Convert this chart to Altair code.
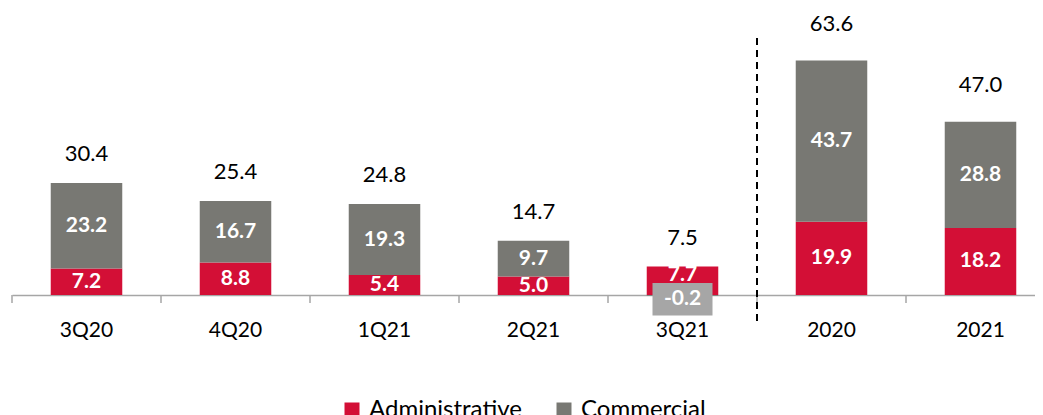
import altair as alt
import pandas as pd

categories = ["3Q20", "4Q20", "1Q21", "2Q21", "3Q21", "2020", "2021"]
period = ["quarter", "quarter", "quarter", "quarter", "quarter", "year", "year"]
administrative = [7.2, 8.8, 5.4, 5.0, 7.7, 19.9, 18.2]
commercial = [23.2, 16.7, 19.3, 9.7, -0.2, 43.7, 28.8]
totals = [30.4, 25.4, 24.8, 14.7, 7.5, 63.6, 47.0]
series = ["Administrative", "Commercial"]
colors = ["#D30F36", "#787873"]
divider_before = "2020"

FONT = "Lato"
RANGE_W = 1043
HEIGHT = 258

seg_rows, neg_rows, top_rows = [], [], []
for c, p, a, m, t in zip(categories, period, administrative, commercial, totals):
    # when the commercial value is negative, its grey label box sits over the
    # lower part of the red bar, so the red label is nudged up a little
    seg_rows.append({"cat": c, "series": "Administrative", "y0": 0.0, "y1": a,
                     "mid": a / 2 + (1.45 if m < 0 else 0.0), "label": f"{a:.1f}"})
    if m >= 0:
        seg_rows.append({"cat": c, "series": "Commercial", "y0": a, "y1": a + m,
                         "mid": a + m / 2, "label": f"{m:.1f}"})
    else:
        seg_rows.append({"cat": c, "series": "Commercial", "y0": 0.0, "y1": m,
                         "mid": m / 2, "label": ""})
        neg_rows.append({"cat": c, "val": m, "label": f"{m:.1f}"})
    top_rows.append({"cat": c, "period": p, "top": t, "label": f"{t:.1f}"})

seg = pd.DataFrame(seg_rows)
neg = pd.DataFrame(neg_rows)
tops = pd.DataFrame(top_rows)
div = pd.DataFrame({"cat": [divider_before]})
ticks_df = pd.DataFrame({"cat": categories})

PAD_IN = 0.52
STEP = RANGE_W / len(categories)
xscale = alt.Scale(domain=categories, range=[0, RANGE_W], paddingInner=PAD_IN,
                   paddingOuter=PAD_IN / 2)
yscale = alt.Scale(domain=[0, 70], nice=False, zero=False)

X = alt.X("cat:N", sort=categories, scale=xscale,
          axis=alt.Axis(title=None, labelAngle=0, ticks=False, grid=False,
                        bandPosition=0.5))
Xs = alt.X("cat:N", sort=categories, scale=xscale)

bars = alt.Chart(seg).mark_bar(stroke=None).encode(
    x=X,
    y=alt.Y("y0:Q", scale=yscale, axis=None),
    y2="y1:Q",
    color=alt.Color("series:N", scale=alt.Scale(domain=series, range=colors),
                    legend=alt.Legend(orient="none", legendX=328, legendY=361,
                                      direction="horizontal", title=None,
                                      symbolType="square", symbolSize=225,
                                      symbolStrokeWidth=0, labelFont=FONT,
                                      labelFontSize=24, labelColor="black",
                                      columnPadding=30, labelOffset=5)),
)

# category-boundary tick marks hanging below the baseline
axis_ticks = alt.Chart(ticks_df).mark_rule(color="#A6A6A6", strokeWidth=1.5,
                                           xOffset=-(PAD_IN / 2) * STEP).encode(
    x=alt.X("cat:N", sort=categories, scale=xscale, bandPosition=0),
    y=alt.value(HEIGHT),
    y2=alt.value(HEIGHT + 8),
)

seg_text = alt.Chart(seg).mark_text(font=FONT, fontSize=21, fontWeight="bold",
                                    color="white", baseline="middle").encode(
    x=Xs, y=alt.Y("mid:Q", scale=yscale), text="label:N",
)

neg_box = alt.Chart(neg).mark_point(
    shape="M-1,-0.54L1,-0.54L1,0.54L-1,0.54Z", size=3600, filled=True,
    fill="#A6A6A6", opacity=1, strokeWidth=0, yOffset=3.5).encode(
    x=Xs, y=alt.Y("val:Q", scale=yscale),
)

neg_text = alt.Chart(neg).mark_text(font=FONT, fontSize=21, fontWeight="bold",
                                    color="white", baseline="middle", yOffset=3.5).encode(
    x=Xs, y=alt.Y("val:Q", scale=yscale), text="label:N",
)

top_q = alt.Chart(tops).transform_filter(alt.datum.period == "quarter").mark_text(
    font=FONT, fontSize=22, color="black", baseline="middle", dy=-29).encode(
    x=Xs, y=alt.Y("top:Q", scale=yscale), text="label:N",
)
top_y = alt.Chart(tops).transform_filter(alt.datum.period == "year").mark_text(
    font=FONT, fontSize=22, color="black", baseline="middle", dy=-37).encode(
    x=Xs, y=alt.Y("top:Q", scale=yscale), text="label:N",
)

divider = alt.Chart(div).mark_rule(color="black", strokeWidth=2, strokeDash=[7, 5],
                                   xOffset=-(PAD_IN / 2) * STEP).encode(
    x=alt.X("cat:N", sort=categories, scale=xscale, bandPosition=0),
    y=alt.value(1),
    y2=alt.value(285),
)

chart = alt.layer(bars, axis_ticks, seg_text, neg_box, neg_text, top_q, top_y,
                  divider).properties(
    width=1023, height=HEIGHT,
    padding={"left": 4, "top": 29, "right": 0, "bottom": 120},
    autosize="none",
).configure_view(stroke=None).configure_axisX(
    labelFont=FONT, labelFontSize=21, labelColor="black", labelPadding=24,
    domainColor="#A6A6A6", domainWidth=1.5,
)

chart.save("out.html", embed_options={"renderer": "svg", "actions": False})
